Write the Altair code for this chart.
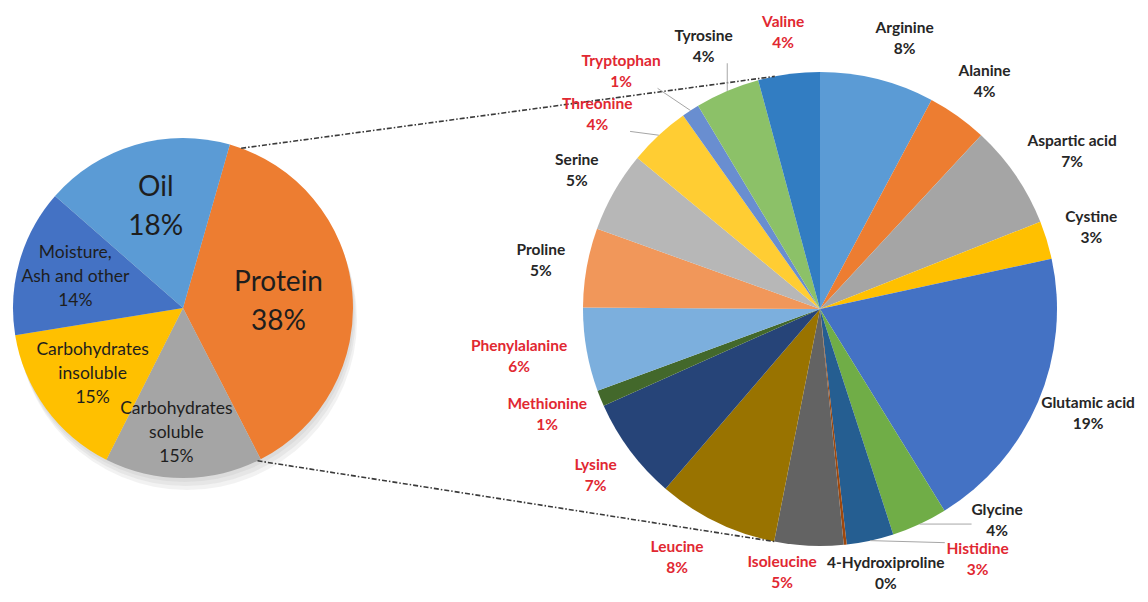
import math
import altair as alt
import pandas as pd

# ---------------- data: seed composition (left pie) ----------------
comp_names = ["Protein", "Carbohydrates soluble", "Carbohydrates insoluble",
              "Moisture, Ash and other", "Oil"]
comp_text = ["Protein", "Carbohydrates\nsoluble", "Carbohydrates\ninsoluble",
             "Moisture,\nAsh and other", "Oil"]
comp_values = [38, 15, 15, 14, 18]
comp_pct = ["38%", "15%", "15%", "14%", "18%"]

# ---------------- data: amino acid profile (right pie) ----------------
amino_names = ["Arginine", "Alanine", "Aspartic acid", "Cystine", "Glutamic acid",
               "Glycine", "Histidine", "4-Hydroxiproline", "Isoleucine", "Leucine",
               "Lysine", "Methionine", "Phenylalanine", "Proline", "Serine",
               "Threonine", "Tryptophan", "Tyrosine", "Valine"]
amino_values = [7.8, 4.1, 7.1, 2.6, 19.6, 3.8, 3.2, 0.2, 4.7, 8.2,
                7.0, 1.1, 5.7, 5.4, 5.5, 4.2, 1.2, 4.4, 4.2]
amino_pct = ["8%", "4%", "7%", "3%", "19%", "4%", "3%", "0%", "5%", "8%",
             "7%", "1%", "6%", "5%", "5%", "4%", "1%", "4%", "4%"]
essential = ["Histidine", "Isoleucine", "Leucine", "Lysine", "Methionine",
             "Phenylalanine", "Threonine", "Tryptophan", "Valine"]

# ---------------- styles ----------------
comp_colors = ["#ED7D31", "#A5A5A5", "#FFC000", "#4472C4", "#5B9BD5"]
amino_colors = ["#5B9BD5", "#ED7D31", "#A5A5A5", "#FFC000", "#4472C4", "#70AD47",
                "#255E91", "#9E480E", "#636363", "#997300", "#264478", "#43682B",
                "#7CAFDD", "#F1975A", "#B7B7B7", "#FFCD33", "#698ED0", "#8CC168",
                "#327DC2"]
RED = "#E12832"
DARK = "#262626"
FONT = "Lato"

# ---------------- layout ----------------
W, H, OFF = 1132, 586, 8
L_CX, L_CY, L_R, L_START = 183, 308, 170, 16
R_CX, R_CY, R_R, R_START = 820, 309, 237, 0
LABEL_R = 258          # anchor radius of the outside labels (right pie)
CHAR_W, LINE_H = 7.3, 21
BIG_LH, SMALL_LH = 39, 24
leader = ["Glycine", "Histidine", "Threonine", "Tryptophan", "Tyrosine"]
label_nudge = {"Glycine": (58, -42), "Histidine": (96, -22),
               "4-Hydroxiproline": (32, -13), "Isoleucine": (-24, -15),
               "Threonine": (-25, 10), "Tryptophan": (-38, -4),
               "Tyrosine": (-4, -6), "Arginine": (15, 0), "Leucine": (-19, -2),
               "Glutamic acid": (-13, -5),
               "Carbohydrates soluble": (-7, 13), "Protein": (-4, 4),
               "Oil": (1, -5)}
shadow_offsets = [4, 8, 12]


def polar(cx, cy, r, deg):
    a = math.radians(deg)
    return cx + r * math.sin(a), cy - r * math.cos(a)


def spans(values, start):
    total = float(sum(values))
    cum, out = 0.0, []
    for v in values:
        a0 = start + cum / total * 360
        cum += v
        a1 = start + cum / total * 360
        out.append((a0, a1))
    return out


def first_line_y(center_y, label, lh):
    # Vega puts the first line at y; shift so the whole block is centred
    n = label.count("\n") + 1
    return center_y - (n - 1) * lh / 2


# ---------- left pie labels ----------
left_big, left_small = [], []
for name, txt, pct, (a0, a1) in zip(comp_names, comp_text, comp_pct, spans(comp_values, L_START)):
    mid = (a0 + a1) / 2
    big = name in ("Protein", "Oil")
    x, y = polar(L_CX, L_CY, 100 if big else 112, mid)
    dx, dy = label_nudge.get(name, (0, 0))
    lab = txt + "\n" + pct
    lh = BIG_LH if big else SMALL_LH
    (left_big if big else left_small).append(
        {"x": x + dx, "y": first_line_y(y + dy, lab, lh), "label": lab})

# ---------- right pie labels and leader lines ----------
right_labels, leaders = [], []
for name, pct, (a0, a1) in zip(amino_names, amino_pct, spans(amino_values, R_START)):
    mid = (a0 + a1) / 2
    s, c = math.sin(math.radians(mid)), math.cos(math.radians(mid))
    w = max(len(name), len(pct)) * CHAR_W
    h = 2 * LINE_H
    ax, ay = polar(R_CX, R_CY, LABEL_R, mid)
    lx, ly = ax + w / 2 * s, ay - h / 2 * c
    dx, dy = label_nudge.get(name, (0, 0))
    lx, ly = lx + dx, ly + dy
    lab = name + "\n" + pct
    right_labels.append({"x": lx, "y": first_line_y(ly, lab, LINE_H), "label": lab,
                         "essential": name in essential})
    if name in leader:
        ex, ey = polar(R_CX, R_CY, R_R, mid)
        nx = min(max(ex, lx - w / 2), lx + w / 2)
        ny = min(max(ey, ly - h / 2 + 4), ly + h / 2 - 4)
        leaders.append({"x1": ex, "y1": ey, "x2": nx, "y2": ny})

# ---------- dash-dot connectors between the pies ----------
conn = []
for la, ra in [(20, 349), (154, 191)]:
    x1, y1 = polar(L_CX, L_CY, L_R, la)
    x2, y2 = polar(R_CX, R_CY, R_R, ra)
    conn.append({"x1": x1, "y1": y1, "x2": x2, "y2": y2})

XS = alt.Scale(domain=[OFF, OFF + W], nice=False, zero=False)
YS = alt.Scale(domain=[OFF, OFF + H], nice=False, zero=False, reverse=True)
X = alt.X("x:Q", scale=XS, axis=None)
Y = alt.Y("y:Q", scale=YS, axis=None)
X1 = alt.X("x1:Q", scale=XS, axis=None)
Y1 = alt.Y("y1:Q", scale=YS, axis=None)

left_df = pd.DataFrame({"name": comp_names, "value": comp_values, "ord": range(len(comp_names))})
right_df = pd.DataFrame({"name": amino_names, "value": amino_values, "ord": range(len(amino_names))})

# soft shadow under the left pie
shadows = [
    alt.Chart(pd.DataFrame({"v": [1]})).mark_arc(
        radius=L_R, color="#9A9A9A", opacity=0.13
    ).encode(theta=alt.Theta("v:Q"), x=alt.value(L_CX - OFF + off / 3), y=alt.value(L_CY - OFF + off))
    for off in shadow_offsets
]

left_pie = alt.Chart(left_df).mark_arc(radius=L_R).encode(
    theta=alt.Theta("value:Q", stack=True,
                    scale=alt.Scale(range=[math.radians(L_START), math.radians(L_START) + 2 * math.pi])),
    order=alt.Order("ord:Q"),
    color=alt.Color("name:N", scale=alt.Scale(domain=comp_names, range=comp_colors), legend=None),
    x=alt.value(L_CX - OFF), y=alt.value(L_CY - OFF),
)

right_pie = alt.Chart(right_df).mark_arc(radius=R_R).encode(
    theta=alt.Theta("value:Q", stack=True,
                    scale=alt.Scale(range=[math.radians(R_START), math.radians(R_START) + 2 * math.pi])),
    order=alt.Order("ord:Q"),
    color=alt.Color("name:N", scale=alt.Scale(domain=amino_names, range=amino_colors), legend=None),
    x=alt.value(R_CX - OFF), y=alt.value(R_CY - OFF),
)

connectors = alt.Chart(pd.DataFrame(conn)).mark_rule(
    color="#3A3A3A", strokeWidth=1.6, strokeDash=[5, 2, 1.5, 2]
).encode(x=X1, y=Y1, x2="x2:Q", y2="y2:Q")

leader_lines = alt.Chart(pd.DataFrame(leaders)).mark_rule(
    color="#A6A6A6", strokeWidth=1
).encode(x=X1, y=Y1, x2="x2:Q", y2="y2:Q")

big_text = alt.Chart(pd.DataFrame(left_big)).mark_text(
    font=FONT, fontSize=28, lineBreak="\n", lineHeight=BIG_LH, color="#1E1E1E",
    align="center", baseline="middle"
).encode(x=X, y=Y, text="label:N")

small_text = alt.Chart(pd.DataFrame(left_small)).mark_text(
    font=FONT, fontSize=17.5, lineBreak="\n", lineHeight=SMALL_LH, color="#1E1E1E",
    align="center", baseline="middle"
).encode(x=X, y=Y, text="label:N")

amino_text = alt.Chart(pd.DataFrame(right_labels)).mark_text(
    font=FONT, fontSize=15.5, fontWeight="bold", lineBreak="\n", lineHeight=LINE_H,
    align="center", baseline="middle"
).encode(
    x=X, y=Y, text="label:N",
    color=alt.condition("datum.essential", alt.value(RED), alt.value(DARK)),
)

chart = alt.layer(
    *shadows, left_pie, right_pie, connectors, leader_lines, big_text, small_text, amino_text
).resolve_scale(
    theta="independent", color="independent"
).properties(
    width=W, height=H, padding=0, autosize="none", background="white"
).configure_view(stroke=None)

chart.save("out.html", embed_options={"renderer": "svg", "actions": False})
